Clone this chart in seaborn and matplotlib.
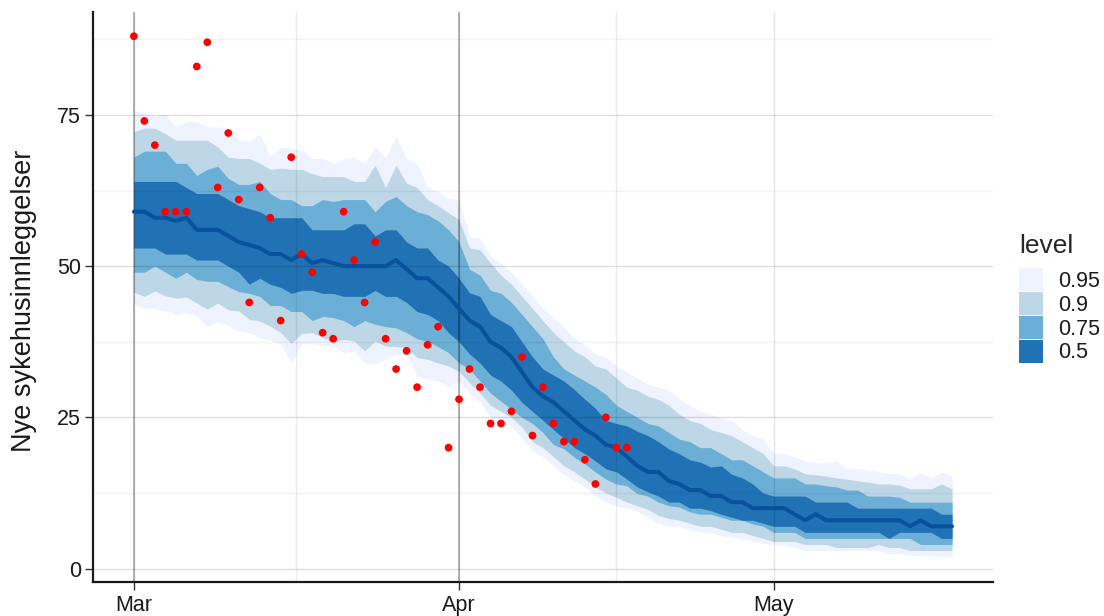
import numpy as np
import pandas as pd
import matplotlib
matplotlib.use("Agg")
import matplotlib.pyplot as plt
import matplotlib.dates as mdates
from matplotlib.patches import Patch
import seaborn as sns

# ---- data -------------------------------------------------------------
start = "2021-03-01"
n_days = 79

observed = [88, 74, 70, 59, 59, 59, 83, 87, 63, 72,
            61, 44, 63, 58, 41, 68, 52, 49, 39, 38,
            59, 51, 44, 54, 38, 33, 36, 30, 37, 40,
            20, 28, 33, 30, 24, 24, 26, 35, 22, 30,
            24, 21, 21, 18, 14, 25, 20, 20]

median = [59, 59, 58, 58, 57.5, 58, 56, 56, 56, 55,
          54, 53.5, 53, 52, 52, 51, 52, 50.5, 51, 50.5,
          50, 50, 50, 50, 50, 51, 49.5, 48, 48, 46.5,
          45, 43, 41, 40, 37.5, 36.5, 35, 32.5, 30, 28.5,
          27.5, 26, 24.5, 23, 22, 20.5, 20, 18.5, 17, 16,
          16, 14.5, 14, 13, 13, 12, 12, 11, 11, 10,
          10, 10, 10, 9, 8, 9, 8, 8, 8, 8,
          8, 8, 8, 8, 7, 8, 7, 7, 7]

hi50 = [64, 64, 64, 64, 64, 63, 62, 62, 62, 61,
        60, 59.5, 59, 58, 58, 58, 58, 56, 56, 56,
        56, 57, 57, 55, 56, 56, 54, 53, 53, 51,
        50, 48, 45.6, 45, 42, 41, 40, 37.5, 35, 33,
        32, 31, 29.6, 28, 26.5, 24.5, 24, 23.6, 22.7, 22,
        21, 19.8, 19, 18, 17.6, 16.8, 17, 15.6, 15, 14,
        12.5, 12, 12, 12, 12, 11, 11, 11, 11, 10,
        10, 10, 10, 10, 10, 10, 10, 9, 9]

lo50 = [53, 53, 53, 52, 52, 52, 51, 51, 51, 50,
        49, 47, 48, 47, 46.5, 45.5, 46, 46, 45.5, 45.5,
        45, 45, 45, 46, 45, 45, 44, 42.5, 42, 41,
        39, 37.5, 35.5, 34, 32, 31, 29.5, 27.5, 26, 24.5,
        23, 21.5, 20, 19, 17.8, 16.5, 16, 14.8, 13.5, 12.7,
        12, 11, 11, 10, 10, 9.6, 9, 8.5, 8, 8,
        7.5, 7, 7, 7, 6, 6, 6, 6, 6, 6,
        6, 6, 5, 6, 6, 6, 6, 5, 5]

hi75 = [68, 69, 69, 69, 67, 67, 65, 66, 66.5, 64.5,
        63.5, 63.5, 64, 62, 61, 61, 60, 60, 61, 60.7,
        61, 61, 61, 59, 60.7, 61.5, 60, 59, 58.5, 57.5,
        56, 54, 49.5, 48.5, 46, 45.5, 44, 42, 40, 38,
        35, 33, 32, 31, 30, 28.8, 27, 26, 25, 24,
        23.6, 22.5, 21.4, 21, 20, 20, 19, 18, 18, 17,
        16, 15, 15, 15, 14, 14, 13.7, 13.5, 13, 13,
        12, 12, 12, 11.8, 11, 11, 11, 11, 11]

lo75 = [49, 49, 50, 49, 48, 49, 47.8, 47.5, 47.5, 46.6,
        45.8, 45.5, 45, 43.5, 43.5, 42.5, 42.5, 41, 41.7, 41.5,
        41, 40, 41, 40.4, 40, 39.8, 39, 38, 37.6, 36.7,
        35.7, 34, 33, 31, 29, 27.7, 26.3, 25, 24, 22.5,
        20.5, 19.8, 18.4, 17.3, 16, 14.8, 14, 13.7, 12.4, 12,
        11, 10.4, 10.2, 9.4, 9, 9, 8.5, 8, 8, 7.4,
        7, 6, 6, 6, 5, 5, 5, 5, 5, 5,
        5, 5, 5, 5, 5, 4, 4, 4, 4]

hi90 = [72.2, 72.8, 72.8, 71.9, 70.8, 70.8, 70.8, 70.8, 69.7, 68,
        67.8, 67.8, 67, 66, 66.2, 66, 66, 65.3, 64.8, 64.8,
        64.8, 64, 64, 66.7, 63, 66.7, 63.7, 63, 61, 60,
        58.8, 57.7, 53, 52.7, 50.5, 48.5, 47, 45, 43, 41,
        39, 37.5, 36, 35, 33.5, 33, 31.5, 30, 29.5, 28.5,
        28, 27, 25.5, 24.5, 24, 23, 22.5, 22, 21, 20,
        19, 17, 17, 16.5, 15.7, 15.5, 15.3, 15, 14.8, 14.5,
        14.3, 14, 14, 13.8, 13.2, 13.2, 13.2, 14, 13.2]

lo90 = [45.7, 45, 45.9, 45.1, 44.7, 44.9, 43.9, 42.9, 43.9, 42.8,
        42.6, 41.2, 40.9, 40.1, 39, 37.2, 38.9, 39, 38.2, 37.5,
        37.9, 37.6, 36, 37.6, 36.8, 36.7, 36.5, 34.9, 34.6, 34,
        33.5, 32.6, 30.7, 29, 27, 26, 25, 23.4, 21, 20,
        18.5, 17, 16, 14.8, 13.5, 12.5, 11.8, 11, 10.4, 9.8,
        8.8, 8.3, 8, 7.5, 7, 7, 6.5, 6, 6, 5.5,
        5, 4.5, 4.5, 4.5, 4, 4, 4, 3.5, 3.5, 3.5,
        3.5, 4, 3.5, 3.5, 3, 3, 3, 3, 3]

hi95 = [75.8, 75.2, 74.7, 75.2, 73, 73.9, 73.9, 73, 73, 72.8,
        70.8, 70.6, 71.9, 68.1, 69.7, 69.5, 69.2, 67.8, 67.8, 67,
        67.7, 68, 67, 69.7, 68, 71.4, 67.8, 67, 63.1, 62.3,
        61.2, 61, 54.9, 54.6, 51.6, 50.5, 49, 47, 45, 43,
        41.5, 40, 38, 37, 35.5, 35, 33.5, 32.5, 31.5, 30.5,
        30, 29.5, 28, 27, 26, 25.5, 25, 24.5, 23, 22,
        21.5, 19, 19, 18.5, 17.8, 17.5, 17.5, 17.8, 16.5, 16.5,
        16.3, 16, 15.7, 15.7, 14.8, 15.9, 15, 15.9, 15.3]

lo95 = [43.7, 43, 43, 42.6, 42, 42.3, 41.7, 40, 40.9, 40.1,
        39.3, 39, 38.2, 37.8, 37.1, 34.1, 37.1, 37.2, 36.9, 36.8,
        35.7, 36, 34, 33.9, 34.6, 35.4, 35.4, 31.8, 31.3, 31,
        30.2, 31, 29, 27.5, 25, 24.5, 23.5, 21.5, 19.5, 18.5,
        17, 15.5, 14.5, 13.5, 12, 11, 10.4, 10, 9.5, 8.5,
        7.5, 7, 7, 6.5, 6, 6, 5.5, 5.2, 5, 4.5,
        4.2, 4, 3.9, 3.5, 3, 3, 3, 3, 3, 3,
        3, 3, 2.5, 2.5, 2.2, 2.2, 2.2, 2, 2]

levels = ["0.95", "0.9", "0.75", "0.5"]
level_colors = ["#EFF3FF", "#BDD7E7", "#6BAED6", "#2171B5"]
month_ticks = ["2021-03-01", "2021-04-01", "2021-05-01"]
month_labels = ["Mar", "Apr", "May"]
y_ticks = [0, 25, 50, 75]

# ---- figure -----------------------------------------------------------
sns.set_theme(style="white")
plt.rcParams["font.family"] = ["Liberation Sans", "DejaVu Sans"]

dates = pd.date_range(start, periods=n_days, freq="D")
obs_dates = dates[:len(observed)]

fig = plt.figure(figsize=(11.04, 6.16), dpi=100)
ax = fig.add_axes([0.0842, 0.0552, 0.8152, 0.9253])

bands = [(lo95, hi95), (lo90, hi90), (lo75, hi75), (lo50, hi50)]
for (lo, hi), col in zip(bands, level_colors):
    ax.fill_between(dates, lo, hi, color=col, linewidth=0, zorder=1)

sns.lineplot(x=dates, y=median, ax=ax, color="#08519C", linewidth=2.9,
             zorder=3, legend=False)
sns.scatterplot(x=obs_dates, y=observed, ax=ax, color="#FF0000", s=31,
                edgecolor="none", linewidth=0, zorder=4, legend=False)

# axis ranges and breaks
x0 = mdates.date2num(pd.Timestamp(start))
ax.set_xlim(x0 - 3.9, x0 + 81.9)
ax.set_ylim(-2.2, 92.0)

major_x = [pd.Timestamp(d) for d in month_ticks]
ax.set_xticks(major_x)
ax.set_xticklabels(month_labels)
minor_x = [major_x[i] + (major_x[i + 1] - major_x[i]) / 2 for i in range(len(major_x) - 1)]
ax.set_xticks(minor_x, minor=True)
ax.set_yticks(y_ticks)
ax.set_yticks([v + 12.5 for v in y_ticks], minor=True)

# grid drawn over the ribbons, faint enough to show through
ax.set_axisbelow(False)
ax.grid(which="major", axis="y", color="black", alpha=0.13, linewidth=1.0)
ax.grid(which="minor", axis="y", color="black", alpha=0.05, linewidth=1.0)
ax.grid(which="major", axis="x", color="black", alpha=0.10, linewidth=1.0)
ax.grid(which="minor", axis="x", color="black", alpha=0.08, linewidth=1.0)
for d in major_x[:2]:
    ax.axvline(d, color="black", alpha=0.28, linewidth=1.4, zorder=2.6)

for side in ["top", "right"]:
    ax.spines[side].set_visible(False)
for side in ["left", "bottom"]:
    ax.spines[side].set_color("#1a1a1a")
    ax.spines[side].set_linewidth(1.6)
    ax.spines[side].set_zorder(5)

ax.tick_params(axis="both", which="major", length=6, width=1.0, color="#333333",
               labelsize=15.5, labelcolor="#1a1a1a", pad=2.5,
               left=True, bottom=True)
ax.tick_params(axis="x", which="major", pad=3.5)
ax.tick_params(axis="both", which="minor", length=0)

ax.set_xlabel("")
ax.set_ylabel("Nye sykehusinnleggelser", fontsize=19.5, color="#1a1a1a")
ax.yaxis.set_label_coords(-0.062, 0.493)

handles = [Patch(facecolor=c, edgecolor="none", label=l)
           for c, l in zip(level_colors, levels)]
leg = ax.legend(handles=handles, title="level", loc="upper left",
                bbox_to_anchor=(1019 / 1104, 1 - 234 / 616),
                bbox_transform=fig.transFigure, frameon=False,
                fontsize=15.5, title_fontsize=19, handlelength=1.12,
                handleheight=1.3, handletextpad=0.7, labelspacing=0.0,
                borderpad=0, borderaxespad=0, alignment="left")
leg._legend_box.sep = 7
for t in leg.get_texts():
    t.set_color("#1a1a1a")

fig.savefig("out.png", dpi=100)
